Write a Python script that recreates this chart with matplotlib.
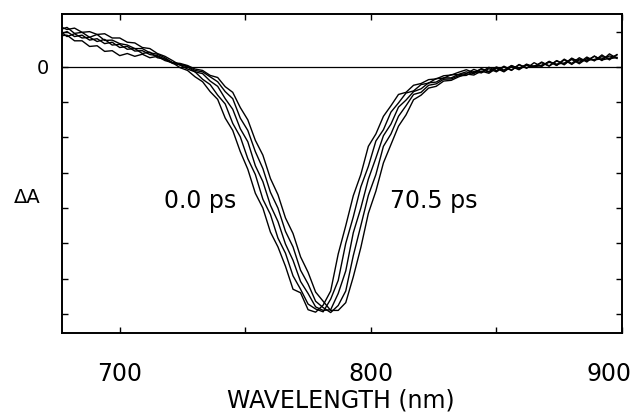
import numpy as np
import matplotlib

matplotlib.use("Agg")
import matplotlib.pyplot as plt
from matplotlib.transforms import ScaledTranslation

# shared wavelength sampling (nm)
wavelength = np.arange(676, 899, 3)

# transient bleach spectra, earliest (0.0 ps) to latest (70.5 ps); units = y ticks
spec_00 = [
    1.05, 1.12, 0.95, 0.98, 0.84, 0.92, 0.75, 0.76, 0.66, 0.62, 0.52, 0.52, 0.40, 0.36, 0.26, 0.12,
    -0.02, -0.10, -0.28, -0.42, -0.70, -0.92, -1.45, -1.80, -2.40, -2.90, -3.58, -4.00, -4.68,
    -5.10, -5.65, -6.30, -6.40, -6.88, -6.95,
    -6.75, -6.35, -5.30, -4.50, -3.65, -3.05, -2.25, -1.90, -1.40, -1.10, -0.78, -0.72, -0.52,
    -0.47, -0.36, -0.34, -0.25, -0.23, -0.15,
    -0.08, -0.16, -0.05, -0.13, 0.00, -0.09, 0.04, -0.06, 0.08, -0.01, 0.14, 0.03, 0.18, 0.08,
    0.25, 0.12, 0.28, 0.17, 0.34, 0.20, 0.35,
]
spec_b = [
    1.15, 1.06, 1.10, 0.98, 1.00, 0.92, 0.94, 0.82, 0.82, 0.70, 0.68, 0.55, 0.52, 0.38, 0.30, 0.18,
    0.05, -0.06, -0.14, -0.35, -0.50, -0.80, -1.05, -1.60, -1.98, -2.60, -3.05, -3.75, -4.18,
    -4.85, -5.28, -5.92, -6.30, -6.72, -6.86,
    -6.94, -6.58, -6.05, -5.00, -4.25, -3.40, -2.82, -2.10, -1.78, -1.28, -1.02, -0.74, -0.68,
    -0.50, -0.46, -0.33, -0.32, -0.22, -0.22,
    -0.19, -0.07, -0.15, -0.01, -0.11, 0.02, -0.09, 0.07, -0.04, 0.12, 0.01, 0.16, 0.05, 0.22,
    0.10, 0.26, 0.14, 0.31, 0.18, 0.37, 0.24,
]
spec_c = [
    0.92, 1.00, 0.86, 0.90, 0.76, 0.80, 0.66, 0.70, 0.55, 0.58, 0.45, 0.46, 0.35, 0.32, 0.22, 0.10,
    0.06, 0.00, -0.14, -0.19, -0.40, -0.55, -0.90, -1.20, -1.75, -2.12, -2.80, -3.25, -3.92,
    -4.38, -5.02, -5.48, -6.08, -6.42, -6.80,
    -6.90, -6.88, -6.42, -5.78, -4.70, -4.00, -3.18, -2.58, -1.95, -1.62, -1.14, -0.94, -0.70,
    -0.62, -0.45, -0.43, -0.31, -0.31, -0.21,
    -0.14, -0.19, -0.06, -0.15, -0.02, -0.12, 0.03, -0.03, 0.05, 0.02, 0.12, 0.02, 0.17, 0.06,
    0.23, 0.17, 0.19, 0.30, 0.20, 0.24, 0.34,
]
spec_d = [
    0.88, 0.90, 0.74, 0.74, 0.58, 0.60, 0.44, 0.46, 0.32, 0.38, 0.30, 0.36, 0.26, 0.30, 0.18, 0.12,
    0.08, 0.02, -0.10, -0.14, -0.28, -0.42, -0.70, -0.90, -1.45, -1.80, -2.40, -2.88, -3.55,
    -4.00, -4.66, -5.10, -5.76, -6.15, -6.64,
    -6.82, -6.96, -6.76, -6.35, -5.35, -4.50, -3.64, -3.05, -2.25, -1.90, -1.40, -1.10, -0.78,
    -0.72, -0.52, -0.48, -0.35, -0.34, -0.25,
    -0.24, -0.13, -0.17, -0.05, -0.14, 0.00, -0.10, 0.06, -0.02, 0.03, 0.03, 0.15, 0.04, 0.20,
    0.07, 0.22, 0.19, 0.21, 0.29, 0.24, 0.26,
]
spec_705 = [
    1.02, 0.86, 0.94, 0.82, 0.84, 0.72, 0.78, 0.62, 0.64, 0.50, 0.52, 0.38, 0.42, 0.26, 0.22, 0.12,
    0.10, 0.04, -0.06, -0.10, -0.24, -0.30, -0.56, -0.72, -1.15, -1.50, -2.08, -2.50, -3.16,
    -3.62, -4.28, -4.72, -5.38, -5.82, -6.38,
    -6.64, -6.90, -6.90, -6.68, -5.95, -5.12, -4.15, -3.52, -2.72, -2.20, -1.68, -1.36, -0.93,
    -0.80, -0.60, -0.55, -0.40, -0.38, -0.28,
    -0.20, -0.23, -0.12, -0.18, -0.04, -0.14, 0.01, -0.08, 0.06, 0.00, 0.05, 0.13, 0.08, 0.11,
    0.21, 0.09, 0.24, 0.20, 0.23, 0.31, 0.27,
]
spectra = [spec_00, spec_b, spec_c, spec_d, spec_705]

x_ticks = [700, 750, 800, 850, 900]
x_tick_labels = ["700", "", "800", "", "900"]
y_ticks = list(range(-7, 2))
y_tick_labels = ["0" if t == 0 else "" for t in y_ticks]

plt.rcParams["font.family"] = ["DejaVu Sans"]

fig = plt.figure(figsize=(6.35, 4.15), dpi=100)
ax = fig.add_axes([0.0976, 0.1976, 0.8819, 0.7687])

for spec in spectra:
    ax.plot(wavelength, spec, color="black", lw=1.0)
ax.axhline(0, color="black", lw=0.9)

ax.set_xlim(677, 900)
ax.set_ylim(-7.54, 1.50)

ax.set_xticks(x_ticks)
ax.set_xticklabels(x_tick_labels, fontsize=17)
ax.set_yticks(y_ticks)
ax.set_yticklabels(y_tick_labels, fontsize=14)
ax.tick_params(direction="in", top=True, right=True, length=4, width=1.0)
ax.tick_params(axis="x", pad=21)
ax.tick_params(axis="y", pad=9)

# "900" sits left of the frame corner in the original
lbl = ax.get_xticklabels()[-1]
lbl.set_transform(lbl.get_transform() + ScaledTranslation(-9 / 72, 0, fig.dpi_scale_trans))

for sp in ax.spines.values():
    sp.set_linewidth(1.4)

ax.text(732, -4.0, "0.0 ps", fontsize=17, ha="center", va="baseline")
ax.text(825, -4.0, "70.5 ps", fontsize=17, ha="center", va="baseline")

fig.text(0.0425, 0.511, "ΔA", fontsize=14, ha="center", va="baseline")
fig.text(0.537, 0.034, "WAVELENGTH (nm)", fontsize=17, ha="center", va="center")

fig.savefig("out.png", dpi=100)
